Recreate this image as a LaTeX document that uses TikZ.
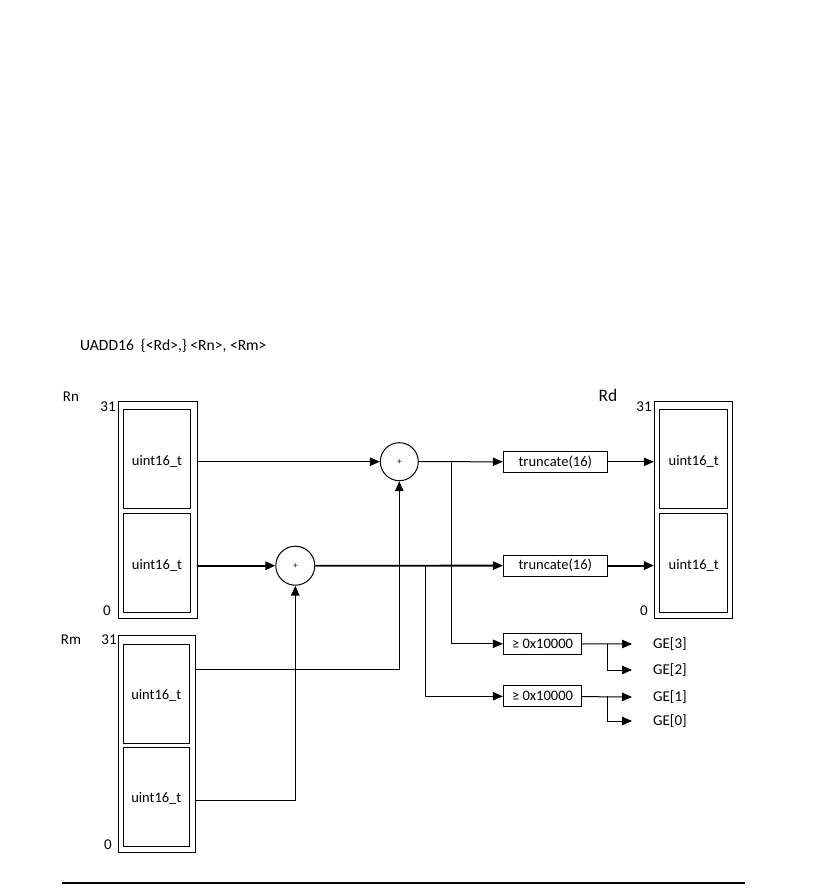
\documentclass[tikz,border=0pt]{standalone}
\usepackage{fontspec}
\setmainfont{Carlito}
\usetikzlibrary{arrows.meta}
\begin{document}
\begin{tikzpicture}[x=1pt,y=-1pt,
  box/.style={draw,line width=1pt,inner sep=0pt,rectangle},
  half/.style={draw,line width=1pt,inner sep=0pt,minimum width=67pt,minimum height=99pt,text height=12.5pt,text depth=0pt,font=\fontsize{14.5}{16}\selectfont},
  opbox/.style={draw,line width=1pt,inner sep=0pt,minimum height=21pt,font=\fontsize{14.5}{16}\selectfont},
  adder/.style={draw,circle,line width=1pt,minimum size=38pt,inner sep=0pt,font=\fontsize{9}{10}\selectfont},
  lbl/.style={inner sep=0pt,font=\fontsize{15}{17}\selectfont},
  wire/.style={line width=1pt},
  thickwire/.style={line width=1.8pt},
  arr/.style={-{Triangle[length=10pt,width=8.5pt]}}]
\useasboundingbox (0,0) rectangle (834,896);

% title
\node[lbl,anchor=west,font=\fontsize{15.6}{17}\selectfont] (title) at (80,346) {UADD16\ \ \{<Rd>,\} <Rn>, <Rm>};

% Rn register
\node[box,minimum width=79pt,minimum height=216.5pt] (Rn) at (157.5,509.8) {};
\node[half] (Rnhi) at (157,458.8) {uint16\_t};
\node[half] (Rnlo) at (157,562.8) {uint16\_t};
\node[lbl] (RnL) at (71,397) {Rn};
\node[lbl] (Rn31) at (108,407) {31};
\node[lbl] (Rn0) at (107,611) {0};

% Rm register
\node[box,minimum width=77.5pt,minimum height=217pt] (Rm) at (157,743.5) {};
\node[half,minimum width=66pt] (Rmhi) at (156.3,693.7) {uint16\_t};
\node[half,minimum width=66pt] (Rmlo) at (156.3,796.7) {uint16\_t};
\node[lbl] (RmL) at (71,640) {Rm};
\node[lbl] (Rm31) at (109,640) {31};
\node[lbl] (Rm0) at (108,845) {0};

% Rd register
\node[box,minimum width=78pt,minimum height=217pt] (Rd) at (693.3,509.7) {};
\node[half,minimum width=68pt] (Rdhi) at (693.7,458.8) {uint16\_t};
\node[half,minimum width=68pt] (Rdlo) at (693.7,562.8) {uint16\_t};
\node[lbl,font=\fontsize{17.5}{19}\selectfont] (RdL) at (608,395) {Rd};
\node[lbl] (Rd31) at (644,407) {31};
\node[lbl] (Rd0) at (644,611) {0};

% adders
\node[adder] (add1) at (399.3,461.7) {+};
\node[adder,minimum size=39pt] (add0) at (295.3,565.7) {+};

% truncate boxes
\node[opbox,minimum width=104pt] (tr1) at (555.3,461.8) {truncate(16)};
\node[opbox,minimum width=104pt] (tr0) at (555.3,565.6) {truncate(16)};

% compare boxes
\node[opbox,minimum width=78.4pt] (cmp1) at (542.5,643.8) {≥ 0x10000};
\node[opbox,minimum width=78.4pt] (cmp0) at (542.5,696.3) {≥ 0x10000};

% GE labels
\node[lbl,anchor=west] (ge3) at (653,644) {GE[3]};
\node[lbl,anchor=west] (ge2) at (653,670) {GE[2]};
\node[lbl,anchor=west] (ge1) at (653,697) {GE[1]};
\node[lbl,anchor=west] (ge0) at (653,721) {GE[0]};

% helper coordinates
\coordinate (m1) at (399.3,669.3);
\coordinate (m0) at (295.3,800);
\coordinate (b1) at (451.7,461.7);
\coordinate (b0) at (425.3,565.7);
\coordinate (g1) at (607.3,643.8);
\coordinate (g0) at (607.3,696.3);

% upper lane
\draw[wire,arr] (Rn.east |- add1) -- (add1);
\draw[wire,arr] (add1) -- (tr1);
\draw[wire,arr] (tr1) -- (Rd.west |- tr1);
\draw[wire,arr] (Rm.east |- m1) -- (m1) -- (add1);

% lower lane
\draw[thickwire,arr] (Rn.east |- add0) -- (add0);
\draw[thickwire,arr] (add0) -- (tr0);
\draw[thickwire,arr] (tr0) -- (Rd.west |- tr0);
\draw[wire,arr] (Rm.east |- m0) -- (m0) -- (add0);

% branches to compare
\draw[wire,arr] (b1) |- (cmp1);
\draw[wire,arr] (b0) |- (cmp0);

% GE outputs
\draw[wire,arr] (cmp1) -- ([xshift=-21pt]ge3.west);
\draw[wire,arr] (g1) |- ([xshift=-21pt]ge2.west);
\draw[wire,arr] (cmp0) -- ([xshift=-21pt]ge1.west);
\draw[wire,arr] (g0) |- ([xshift=-21pt]ge0.west);

% bottom rule
\draw[line width=2pt] (62,883) -- (745,883);
\end{tikzpicture}
\end{document}
